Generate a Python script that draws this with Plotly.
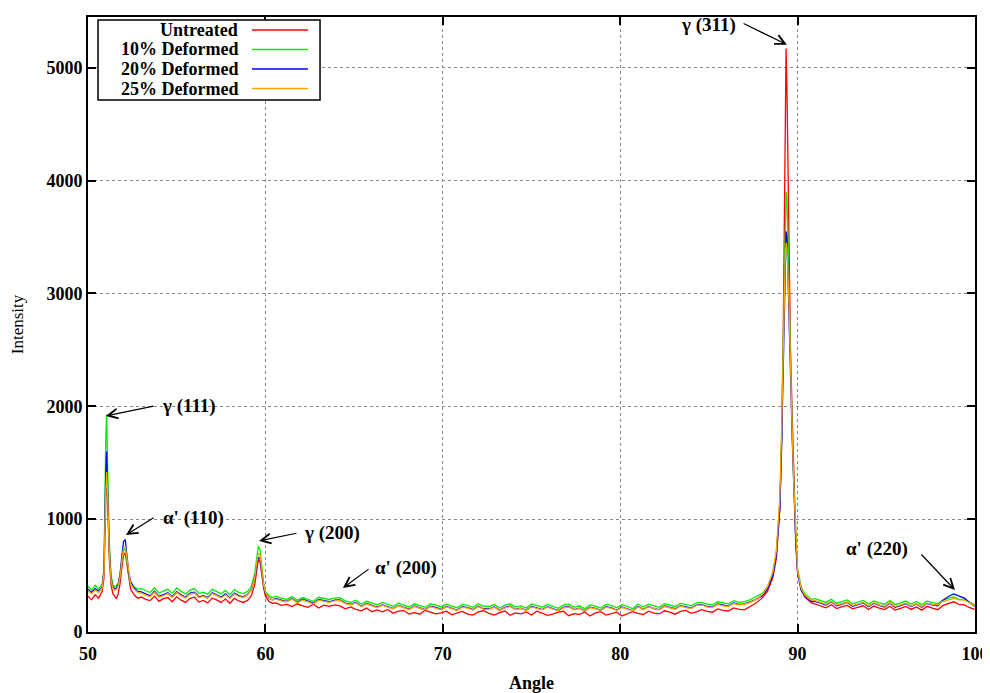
import numpy as np
import plotly.graph_objs as go

# sampling grid of the diffractogram (degrees 2-theta)
angle = np.concatenate([
    [50.0, 50.2, 50.4, 50.6, 50.8],
    [50.9, 51.0, 51.05, 51.1, 51.2, 51.3, 51.4, 51.5, 51.6, 51.7, 51.8, 51.9,
     52.0, 52.1, 52.2, 52.3, 52.4, 52.6, 52.8],
    np.round(np.arange(53.0, 59.01, 0.25), 2),
    [59.2, 59.4, 59.5, 59.6, 59.7, 59.8, 59.9, 60.0, 60.2, 60.4],
    np.round(np.arange(60.6, 87.61, 0.3), 2),
    [88.0, 88.3, 88.6, 88.8, 89.0, 89.1, 89.2, 89.3, 89.35, 89.4, 89.5, 89.6,
     89.7, 89.8, 89.9, 90.0, 90.2, 90.4, 90.6, 90.8],
    np.round(np.arange(91.0, 100.01, 0.3), 2),
])

untreated = (
    [318, 285, 330, 300, 360]
    + [480, 1150, 1380, 1200, 650, 420, 340, 320, 295, 340, 420, 560, 680, 700, 580, 450, 380, 330, 300]
    + [310, 290, 278, 318, 272, 295, 305, 268, 312, 282, 262, 298, 308, 265, 280, 258, 300, 285, 262, 292,
       255, 298, 275, 262, 280]
    + [320, 420, 520, 640, 620, 500, 390, 320, 270, 255]
    + [258, 236, 244, 225, 250, 232, 218, 246, 212, 238,
       228, 240, 232, 205, 222, 200, 188, 212, 180, 196,
       178, 200, 165, 185, 190, 160, 172, 158, 192, 176,
       160, 170, 185, 152, 166, 182, 158, 150, 178, 188,
       165, 150, 172, 186, 148, 170, 160, 178, 150, 184,
       168, 148, 158, 176, 184, 145, 162, 155, 178, 142,
       170, 180, 150, 162, 176, 142, 158, 180, 166, 155,
       185, 168, 160, 188, 176, 158, 182, 192, 165, 178,
       198, 182, 175, 204, 192, 186, 214, 200, 196, 222, 250]
    + [300, 360, 480, 650, 1100, 1700, 2800, 4300, 5170, 4800, 3600, 2500, 1900, 1300, 800, 540, 380, 310, 280, 255]
    + [248, 230, 215, 242, 208, 225, 236, 205, 218, 232, 200, 230, 212, 198, 228, 195,
       210, 226, 200, 222, 194, 228, 212, 198, 236, 250, 268, 245, 240, 215, 200]
)

deformed10 = (
    [405, 372, 415, 380, 425]
    + [560, 1700, 1930, 1500, 800, 500, 420, 400, 410, 430, 500, 620, 720, 740, 620, 500, 440, 400, 380]
    + [385, 368, 350, 392, 345, 362, 378, 342, 390, 360, 336, 372, 385, 340, 352, 335, 378, 360, 338, 368,
       330, 375, 350, 340, 360]
    + [400, 520, 640, 760, 730, 560, 430, 360, 320, 305]
    + [318, 300, 290, 312, 280, 305, 288, 272, 308, 296,
       288, 300, 305, 276, 262, 282, 248, 272, 258, 240,
       262, 245, 228, 256, 240, 222, 250, 232, 218, 248,
       240, 222, 246, 230, 215, 244, 236, 218, 248, 228,
       226, 244, 212, 238, 250, 220, 232, 212, 246, 236,
       218, 244, 228, 210, 238, 246, 218, 232, 205, 240,
       230, 212, 244, 236, 214, 242, 228, 206, 246, 224,
       246, 230, 218, 250, 238, 226, 254, 240, 232, 258,
       262, 246, 240, 268, 256, 250, 278, 262, 270, 284, 310]
    + [340, 400, 520, 700, 1150, 1750, 2700, 3600, 3900, 3850, 3100, 2300, 1750, 1250, 820, 560, 400, 340, 310, 290]
    + [295, 278, 262, 290, 255, 270, 284, 250, 266, 280, 248, 276, 258, 246, 278, 244,
       256, 274, 248, 270, 242, 276, 260, 250, 286, 296, 310, 290, 292, 262, 240]
)

deformed20 = (
    [380, 350, 385, 360, 400]
    + [540, 1400, 1600, 1300, 720, 470, 400, 380, 390, 420, 500, 660, 800, 820, 680, 520, 450, 390, 360]
    + [355, 338, 320, 362, 315, 332, 348, 312, 358, 330, 308, 345, 352, 312, 322, 305, 348, 330, 310, 338,
       302, 345, 322, 312, 335]
    + [370, 480, 580, 660, 650, 520, 410, 340, 300, 285]
    + [298, 282, 272, 295, 262, 290, 270, 255, 288, 276,
       268, 282, 285, 256, 244, 262, 228, 252, 238, 220,
       240, 226, 208, 236, 220, 202, 230, 212, 198, 228,
       218, 200, 226, 210, 195, 224, 216, 198, 228, 206,
       204, 224, 192, 218, 230, 200, 212, 192, 226, 214,
       198, 224, 206, 190, 218, 226, 198, 212, 185, 220,
       210, 192, 224, 214, 194, 222, 206, 188, 226, 202,
       226, 208, 198, 230, 218, 206, 234, 220, 212, 238,
       242, 226, 220, 248, 236, 230, 258, 244, 250, 264, 285]
    + [320, 380, 500, 680, 1100, 1650, 2500, 3300, 3550, 3500, 3000, 2300, 1700, 1200, 780, 520, 370, 320, 290, 270]
    + [272, 256, 240, 268, 232, 248, 262, 228, 244, 258, 225, 256, 236, 222, 256, 220,
       234, 252, 226, 248, 220, 254, 240, 232, 280, 315, 338, 318, 300, 262, 225]
)

deformed25 = (
    [365, 340, 372, 350, 390]
    + [520, 1250, 1420, 1250, 700, 460, 390, 370, 375, 410, 480, 620, 740, 760, 640, 500, 430, 380, 350]
    + [345, 328, 312, 352, 308, 322, 340, 305, 350, 320, 300, 336, 345, 305, 316, 298, 340, 322, 302, 330,
       296, 338, 315, 305, 330]
    + [370, 480, 600, 700, 680, 540, 420, 350, 300, 285]
    + [292, 276, 268, 290, 258, 284, 266, 250, 282, 270,
       262, 276, 280, 252, 240, 258, 226, 248, 234, 216,
       236, 222, 206, 232, 216, 198, 226, 208, 196, 224,
       214, 198, 222, 206, 192, 220, 212, 196, 224, 202,
       200, 220, 190, 214, 226, 198, 208, 190, 222, 210,
       196, 220, 202, 188, 214, 222, 196, 208, 184, 216,
       206, 190, 220, 210, 192, 218, 202, 186, 222, 198,
       222, 206, 196, 226, 214, 202, 230, 216, 210, 234,
       238, 222, 216, 244, 232, 226, 254, 240, 246, 260, 282]
    + [330, 400, 530, 720, 1200, 1800, 2700, 3300, 3450, 3400, 3000, 2300, 1750, 1250, 800, 540, 390, 330, 300, 280]
    + [278, 262, 245, 272, 238, 252, 266, 234, 248, 262, 230, 260, 240, 228, 260, 226,
       240, 256, 230, 252, 226, 258, 246, 240, 272, 288, 298, 284, 282, 258, 232]
)

series_names = ["Untreated", "10% Deformed", "20% Deformed", "25% Deformed"]
series_colors = ["#ff0000", "#00ee00", "#0000ff", "#ffa500"]
series_values = [untreated, deformed10, deformed20, deformed25]

x_ticks = [50, 60, 70, 80, 90, 100]
y_ticks = [0, 1000, 2000, 3000, 4000, 5000]

# peak labels: text, arrow head (angle, intensity), arrow tail, text anchor position
peak_labels = ["γ (311)", "γ (111)", "α' (110)", "γ (200)", "α' (200)", "α' (220)"]
peak_head = [(89.40, 5204), (51.01, 1915), (52.14, 860), (59.64, 807), (64.37, 390), (98.87, 372)]
peak_tail = [(86.87, 5399), (53.78, 2004), (53.78, 1020), (61.84, 878), (65.90, 567), (96.90, 700)]
peak_text = [(86.64, 5381, "right"), (54.07, 2004, "left"), (54.12, 1011, "left"),
             (62.07, 878, "left"), (66.07, 567, "left"), (96.34, 736, "right")]

serif = "Liberation Serif"

fig = go.Figure()
for name, color, vals in zip(series_names, series_colors, series_values):
    assert len(vals) == len(angle), (name, len(vals), len(angle))
    fig.add_trace(go.Scatter(x=angle, y=vals, mode="lines", name=name,
                             line=dict(color=color, width=1.3), showlegend=False))

for lab, head, tail, txt in zip(peak_labels, peak_head, peak_tail, peak_text):
    fig.add_annotation(x=head[0], y=head[1], ax=tail[0], ay=tail[1], axref="x", ayref="y",
                       text="", showarrow=True, arrowhead=5, arrowsize=1.6, arrowwidth=1.2,
                       arrowcolor="black")
    fig.add_annotation(x=txt[0], y=txt[1], text="<b>" + lab + "</b>", showarrow=False,
                       xanchor=txt[2], yanchor="middle",
                       font=dict(family=serif, size=19, color="black"))

# legend box (gnuplot style: text right-aligned, sample line to the right)
fig.add_shape(type="rect", xref="paper", yref="paper", x0=0.0113, x1=0.2616, y0=0.865, y1=0.995,
              line=dict(color="black", width=1.5), fillcolor="white", layer="above")
for i, (name, color) in enumerate(zip(series_names, series_colors)):
    yy = 0.979 - i * 0.0318
    fig.add_annotation(x=0.1714, y=yy, xref="paper", yref="paper", text="<b>" + name + "</b>",
                       showarrow=False, xanchor="right", yanchor="middle",
                       font=dict(family=serif, size=18, color="black"))
    fig.add_shape(type="line", xref="paper", yref="paper", x0=0.1849, x1=0.248, y0=yy, y1=yy,
                  line=dict(color=color, width=1.5), layer="above")

axis_common = dict(showline=True, linecolor="black", linewidth=2, mirror="allticks",
                   ticks="inside", ticklen=8, tickwidth=1.5, tickcolor="black",
                   showgrid=True, gridcolor="#888888", griddash="dot", gridwidth=1,
                   zeroline=False, automargin=False,
                   tickfont=dict(family=serif, size=18, color="black"))

# the page body adds an 8px offset, so the figure is sized to fit the window
fig.update_layout(
    width=982, height=685,
    margin=dict(l=80, r=15, t=9, b=61),
    plot_bgcolor="white", paper_bgcolor="white",
    font=dict(family=serif, size=17, color="black"),
    hovermode=False,
    xaxis=dict(range=[50, 100], tickvals=x_ticks, ticktext=["<b>%d</b>" % v for v in x_ticks],
               ticklabelstandoff=4,
               title=dict(text="<b>Angle</b>", font=dict(size=18), standoff=16),
               **axis_common),
    yaxis=dict(range=[0, 5450], tickvals=y_ticks, ticktext=["<b>%d</b>" % v for v in y_ticks],
               title=dict(text="Intensity", font=dict(size=17), standoff=20),
               **axis_common),
)

fig.write_html("out.html")
